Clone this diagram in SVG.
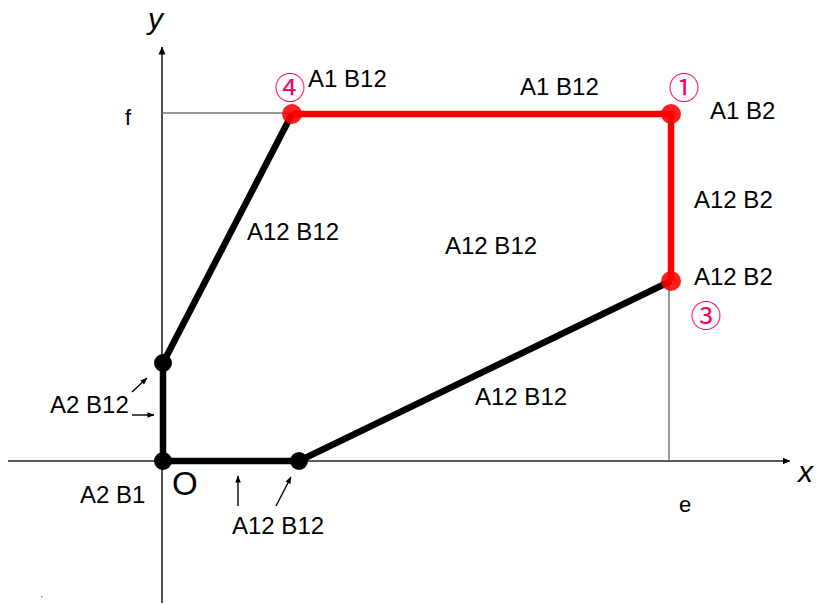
<svg xmlns="http://www.w3.org/2000/svg" width="819" height="604" viewBox="0 0 819 604">
<defs>
<marker id="ah" viewBox="0 0 8 8" refX="7.5" refY="4" markerWidth="8" markerHeight="8" markerUnits="userSpaceOnUse" orient="auto">
<path d="M0,0.5 L8,4 L0,7.5 z" fill="#000"/>
</marker>
<marker id="sa" viewBox="0 0 8 8" refX="7.5" refY="4" markerWidth="7" markerHeight="7" markerUnits="userSpaceOnUse" orient="auto">
<path d="M0,0.8 L8,4 L0,7.2 z" fill="#000"/>
</marker>
<style>
.axis{stroke:#222;stroke-width:1.6;fill:none}
.guide{stroke:#777;stroke-width:1.5;fill:none}
.blk{stroke:#000;stroke-width:6.5;fill:none}
.red{stroke:#ff0000;stroke-width:6.5;fill:none}
.ptr{stroke:#000;stroke-width:1.4;fill:none}
.t{font-family:"Liberation Sans",Arial,sans-serif;font-size:24px;fill:#000}
.ax{font-family:"Liberation Sans",Arial,sans-serif;font-style:italic;font-size:30px;fill:#000}
.sm{font-family:"Liberation Sans",Arial,sans-serif;font-size:22px;fill:#000}
.num{font-family:"Noto Sans CJK JP","DejaVu Sans",sans-serif;font-size:31px;fill:#ff0066;text-anchor:middle}
.rdot{fill:#ff0000;fill-opacity:0.88}
.bdot{fill:#000}
</style>
</defs>
<g id="axes">
<line class="axis" x1="162" y1="603" x2="162" y2="47" marker-end="url(#ah)"/>
<line class="axis" x1="8" y1="461" x2="790" y2="461" marker-end="url(#ah)"/>
<text class="ax" x="148" y="29">y</text>
<text class="ax" x="798" y="482">x</text>
<text class="sm" x="125" y="125">f</text>
<text class="sm" x="679" y="512">e</text>
<text class="t" x="172" y="495" style="font-size:33px">O</text>
</g>
<g id="guides">
<line class="guide" x1="162" y1="113" x2="292" y2="113"/>
<line class="guide" x1="669" y1="283" x2="669" y2="461"/>
</g>
<g id="connectors">
<polyline class="blk" points="163,363 163,461 299,461 671,281"/>
<line class="blk" x1="163" y1="363" x2="292" y2="114"/>
<polyline class="red" points="292,114 671,114 671,281"/>
<line class="ptr" x1="132" y1="392" x2="147" y2="378" marker-end="url(#sa)"/>
<line class="ptr" x1="132" y1="415" x2="154" y2="415" marker-end="url(#sa)"/>
<line class="ptr" x1="238" y1="506" x2="238" y2="476" marker-end="url(#sa)"/>
<line class="ptr" x1="276" y1="506" x2="291" y2="477" marker-end="url(#sa)"/>
</g>
<g id="node-origin"><circle class="bdot" cx="163" cy="461" r="9"/></g>
<g id="node-y"><circle class="bdot" cx="163" cy="363" r="9"/></g>
<g id="node-x"><circle class="bdot" cx="299" cy="461" r="9"/></g>
<g id="node-4"><circle class="rdot" cx="292" cy="114" r="10"/><text class="num" x="290" y="99">④</text></g>
<g id="node-1"><circle class="rdot" cx="671" cy="114" r="10"/><text class="num" x="684" y="99">①</text></g>
<g id="node-3"><circle class="rdot" cx="671" cy="281" r="10"/><text class="num" x="706" y="327">③</text></g>
<g id="labels">
<text class="t" x="308" y="87">A1 B12</text>
<text class="t" x="520" y="95">A1 B12</text>
<text class="t" x="710" y="119">A1 B2</text>
<text class="t" x="694" y="208">A12 B2</text>
<text class="t" x="694" y="285">A12 B2</text>
<text class="t" x="247" y="240">A12 B12</text>
<text class="t" x="445" y="254">A12 B12</text>
<text class="t" x="475" y="405">A12 B12</text>
<text class="t" x="50" y="413">A2 B12</text>
<text class="t" x="80" y="503">A2 B1</text>
<text class="t" x="232" y="534">A12 B12</text>
</g>
<rect x="41" y="596" width="1.5" height="1.5" fill="#888"/>
</svg>
